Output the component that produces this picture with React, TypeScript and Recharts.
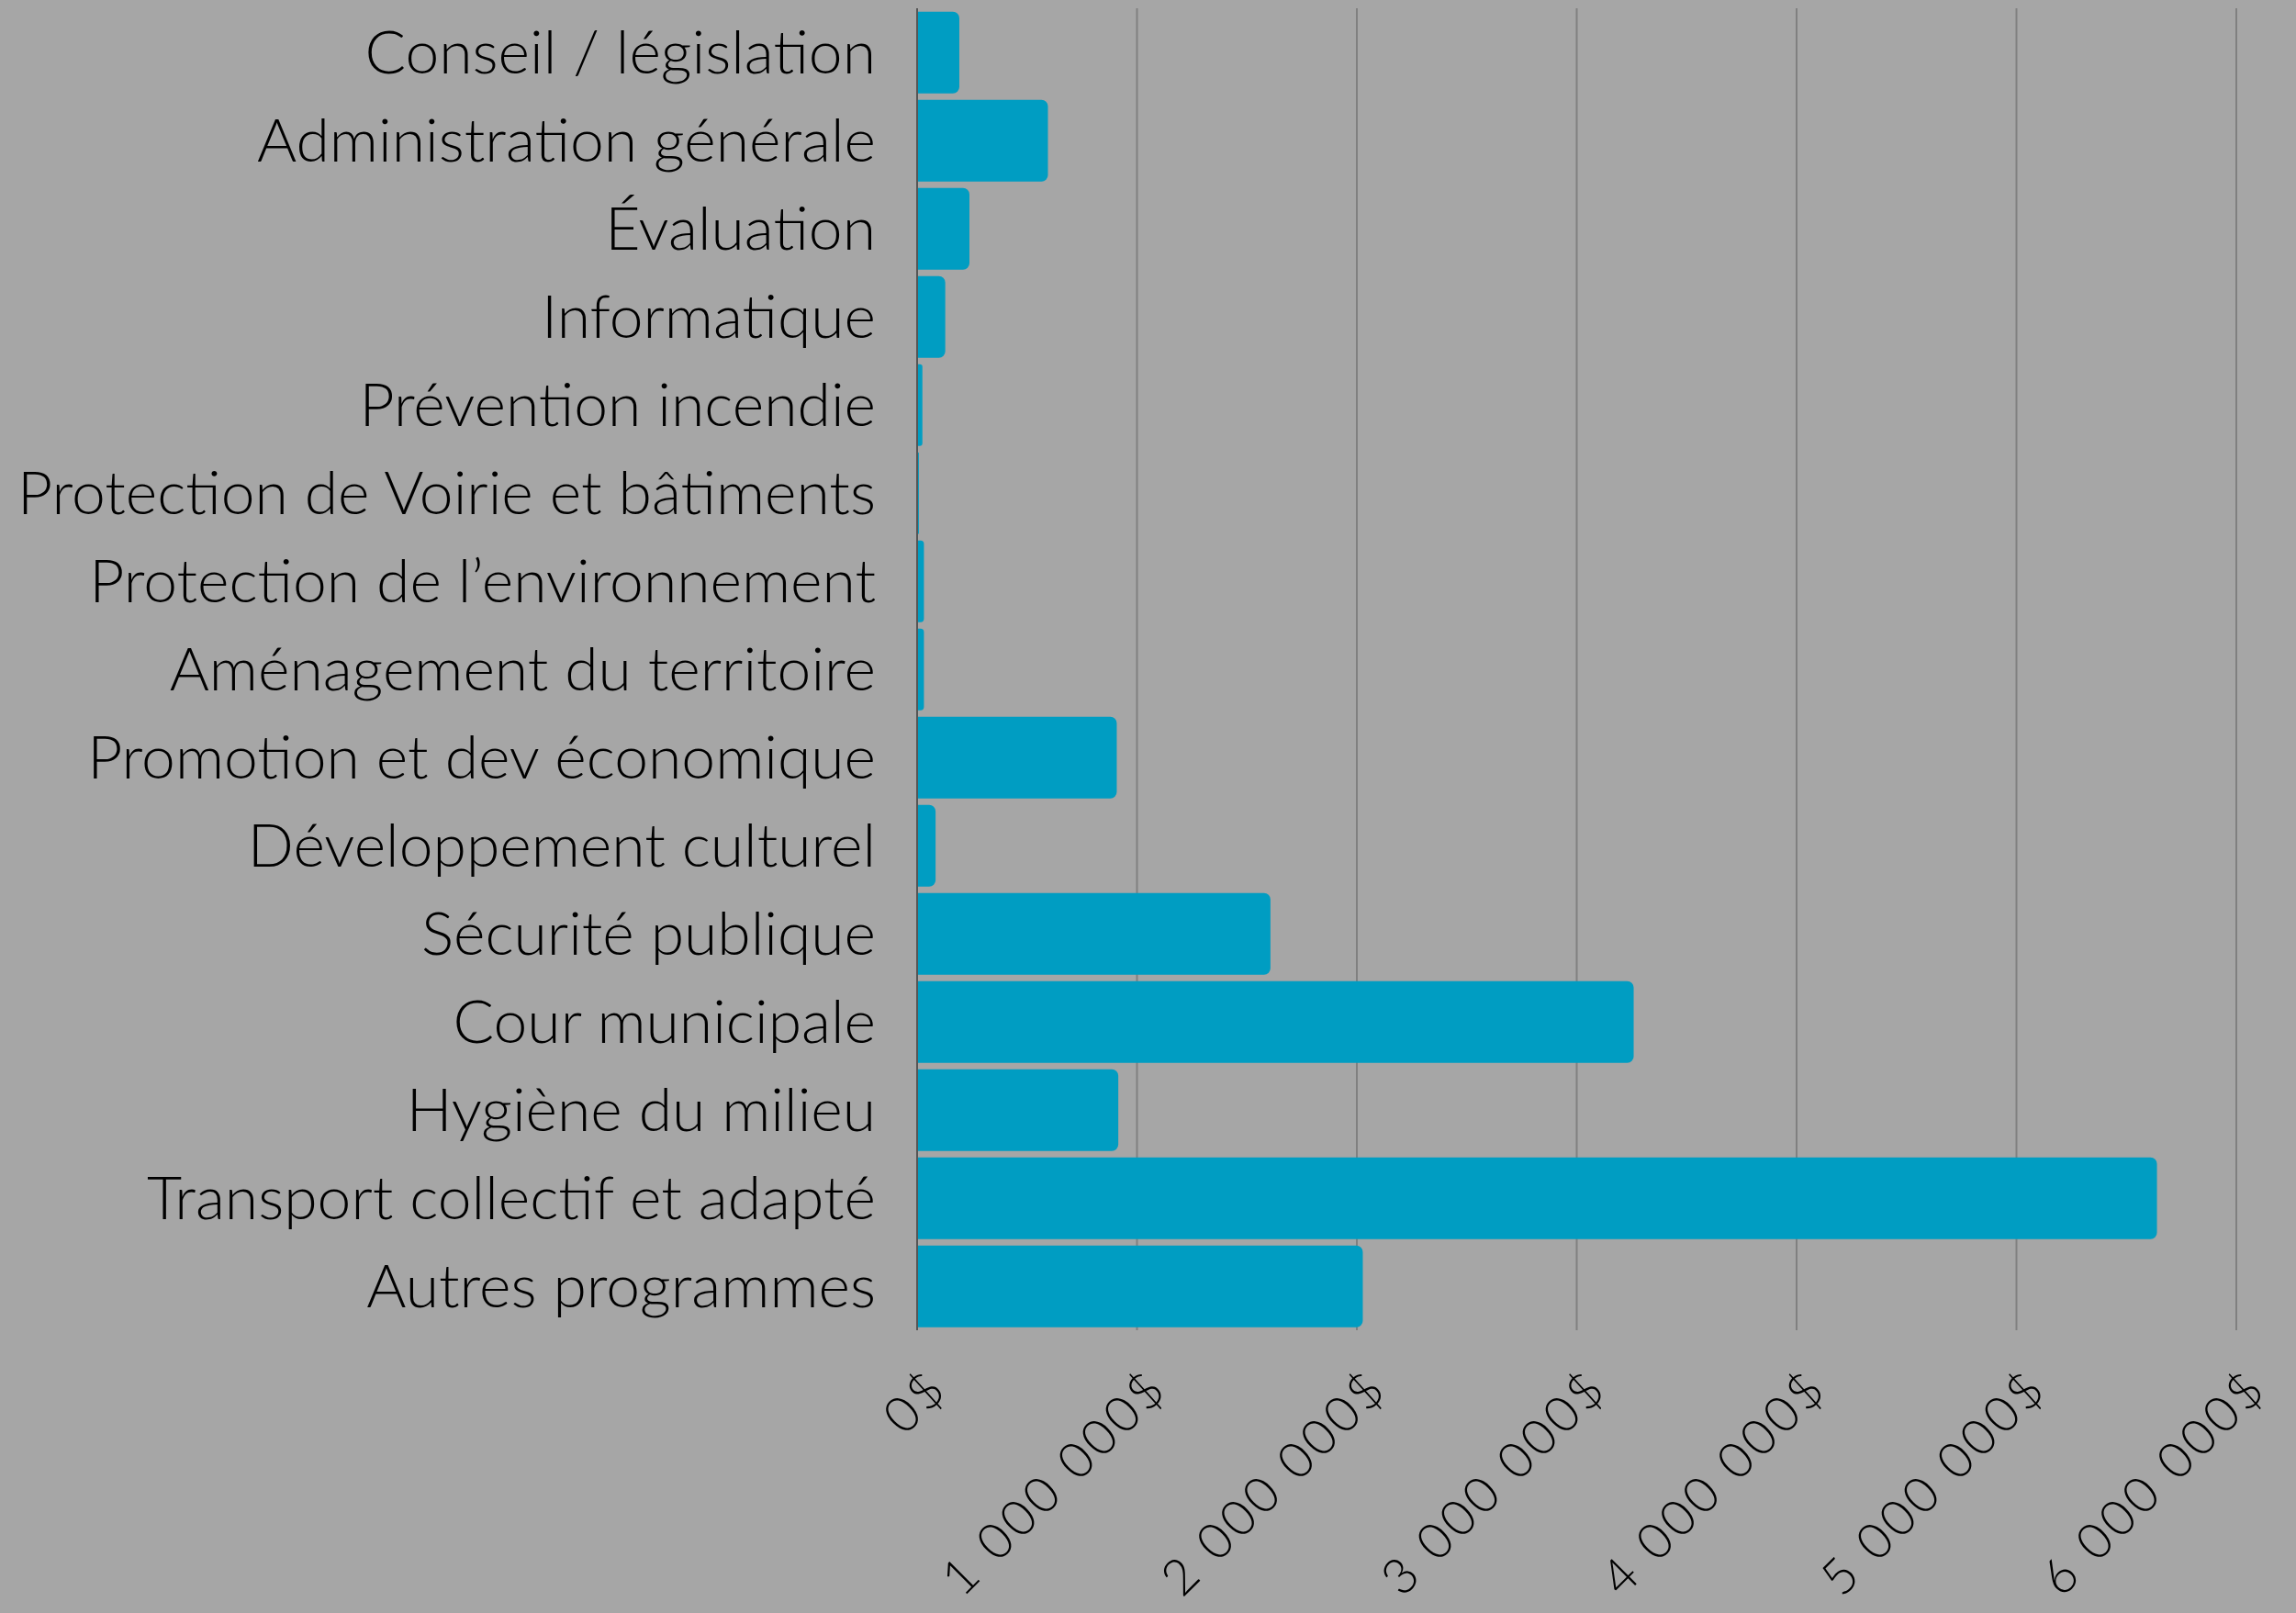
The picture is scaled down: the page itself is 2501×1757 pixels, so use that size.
import { BarChart, Bar, XAxis, YAxis, CartesianGrid } from "recharts";

const categories = [
  "Conseil / législation",
  "Administration générale",
  "Évaluation",
  "Informatique",
  "Prévention incendie",
  "Protection de Voirie et bâtiments",
  "Protection de l’environnement",
  "Aménagement du territoire",
  "Promotion et dev économique",
  "Développement culturel",
  "Sécurité publique",
  "Cour municipale",
  "Hygiène du milieu",
  "Transport collectif et adapté",
  "Autres programmes",
];

const amounts = [
  192000, 595000, 238000, 128000, 24000, 8000, 31000, 31000, 908000, 84000,
  1607000, 3259000, 915000, 5639000, 2027000,
];

const xTicks = [0, 1000000, 2000000, 3000000, 4000000, 5000000, 6000000];

const data = categories.map((name, i) => ({ name, value: amounts[i] }));

const FONT = "Lato, 'Open Sans', sans-serif";

// 1 000 000$ style
const money = (v: number) =>
  String(v).replace(/\B(?=(\d{3})+(?!\d))/g, " ") + "$";

const XTick = ({ x, y, payload }: any) => (
  <g transform={`translate(${x + 36},${y + 66})`}>
    <text
      transform="rotate(-45)"
      textAnchor="end"
      fill="#000"
      fontSize={54}
      fontWeight={300}
      fontFamily={FONT}
      letterSpacing={4}
    >
      {money(payload.value)}
    </text>
  </g>
);

export default function App() {
  return (
    <div
      style={{
        position: "absolute",
        left: 0,
        top: 0,
        width: 2501,
        height: 1757,
        background: "#a6a6a6",
      }}
    >
      <BarChart
        width={2501}
        height={1757}
        data={data}
        layout="vertical"
        margin={{ top: 9, right: 65, left: 0, bottom: 0 }}
        barCategoryGap="3.9%"
      >
        <CartesianGrid horizontal={false} stroke="#808080" strokeWidth={2} />
        <XAxis
          type="number"
          domain={[0, 6000000]}
          ticks={xTicks}
          axisLine={false}
          tickLine={false}
          tickSize={0}
          tickMargin={0}
          height={308}
          interval={0}
          tick={<XTick />}
        />
        <YAxis
          type="category"
          dataKey="name"
          width={999}
          axisLine={{ stroke: "#555555", strokeWidth: 2 }}
          tickLine={false}
          tickSize={0}
          tickMargin={45}
          interval={0}
          tick={{ fill: "#000", fontSize: 66, fontWeight: 300, fontFamily: FONT }}
        />
        <Bar
          dataKey="value"
          fill="#009dc2"
          radius={[0, 7, 7, 0]}
          isAnimationActive={false}
        />
      </BarChart>
    </div>
  );
}
